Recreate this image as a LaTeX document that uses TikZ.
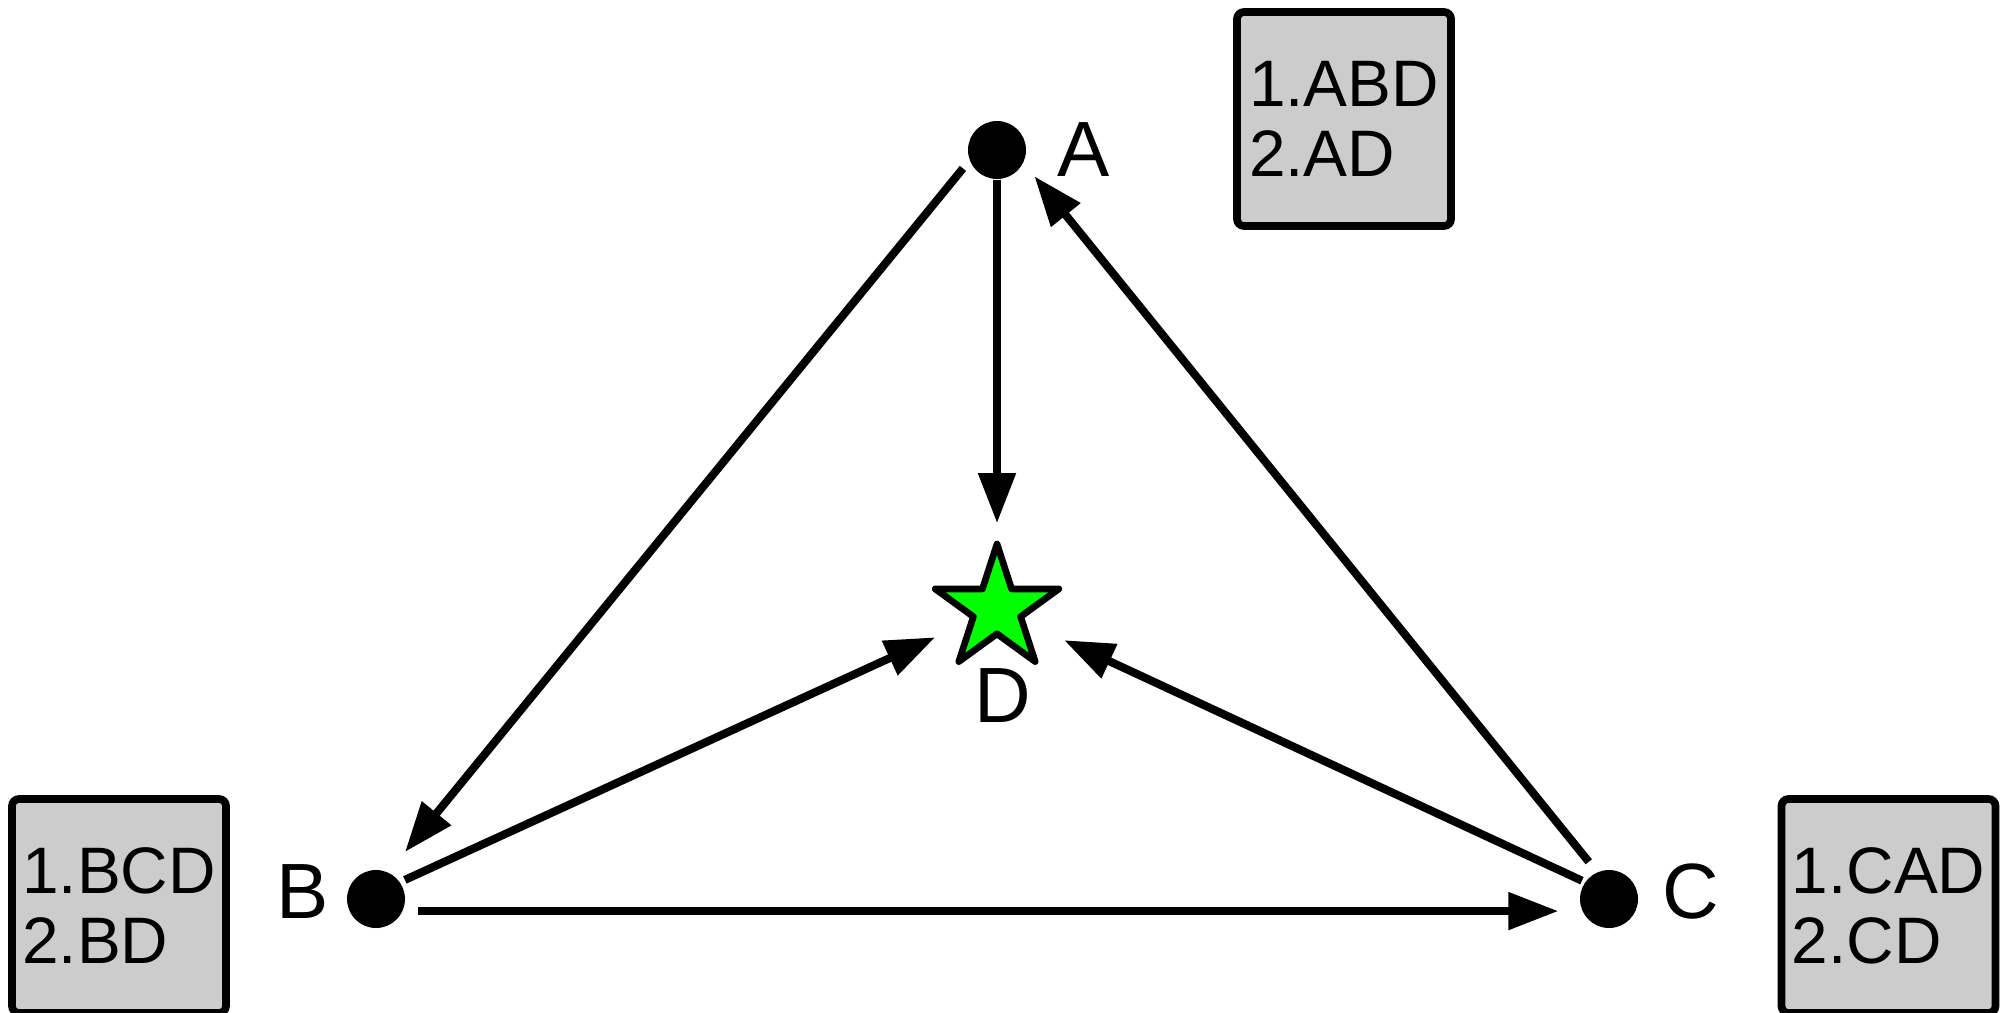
\documentclass[tikz,border=0pt]{standalone}
\usepackage{fontspec}
\setmainfont{Liberation Sans}
\definecolor{memoGray}{RGB}{204, 204, 204}
\definecolor{goalGreen}{RGB}{0, 255, 0}
\usetikzlibrary{shapes, arrows.meta, positioning}

\begin{document}
\begin{tikzpicture}[
        dot/.style={circle, fill=black, inner sep=0pt, minimum size=0.58cm},
        lbl/.style={inner sep=0pt, font=\fontsize{22.3}{26}\selectfont},
        memo/.style={draw, line width=2.2pt, fill=memoGray, rounded corners=2pt,
            minimum width=2.14cm, minimum height=2.14cm, align=left, inner sep=0pt,
            font=\fontsize{18.7}{19.9}\selectfont},
        route/.style={line width=2.3pt, -{Triangle[length=0.5cm, width=0.36cm]}}
    ]
        \path[use as bounding box, clip] (0,0) rectangle (20.07,10.12);

        % Points
        \node[dot] (A) at (9.97,8.62) {};
        \node[dot] (B) at (3.76,1.13) {};
        \node[dot] (C) at (16.09,1.13) {};
        \node[star, star points=5, star point ratio=2.618, minimum size=1.3cm,
            inner sep=0pt, draw, line width=1.9pt, line join=round,
            fill=goalGreen] (D) at (9.97,4.03) {};

        % Labels
        \node[lbl, right=0.3cm of A] (Alabel) {A};
        \node[lbl, left=0.17cm of B, yshift=0.07cm] (Blabel) {B};
        \node[lbl, right=0.23cm of C, yshift=0.07cm] (Clabel) {C};
        \node[lbl] (Dlabel) at ([xshift=0.06cm, yshift=-0.87cm]D.center) {D};

        % Memo boxes
        \node[memo] (Amemo) at (13.44,8.93) {1.ABD\\2.AD};
        \node[memo] (Bmemo) at (1.19,1.06) {1.BCD\\2.BD};
        \node[memo] (Cmemo) at (18.885,1.06) {1.CAD\\2.CD};

        % Routes
        \draw[route, shorten >=0.1cm] (A.south) -- (D.north);
        \draw[route, shorten <=0.1cm, shorten >=0.26cm] (A.201) -- (B.65);
        \draw[route, shorten <=0.05cm, shorten >=0.68cm] (B.35.5) -- (D.center);
        \draw[route, shorten <=0.145cm, shorten >=0.235cm] (B.336) -- (C.204);
        \draw[route, shorten <=0.03cm, shorten >=0.74cm] (C.145) -- (D.center);
        \draw[route, shorten <=0.13cm, shorten >=0.17cm] (C.114) -- (A.334);
    \end{tikzpicture}
\end{document}
